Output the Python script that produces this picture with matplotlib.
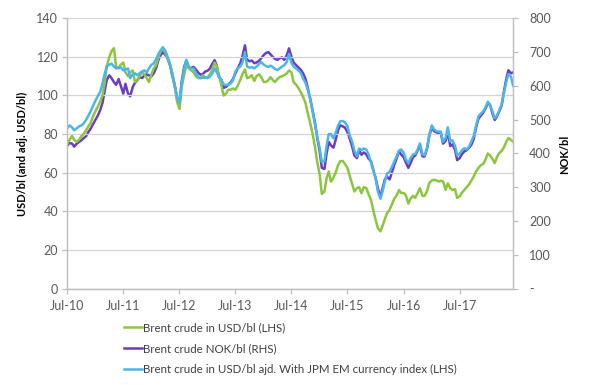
import numpy as np
import pandas as pd
import matplotlib
matplotlib.use('Agg')
import matplotlib.pyplot as plt
import matplotlib.dates as mdates
from matplotlib.ticker import FuncFormatter, MultipleLocator

plt.rcParams['font.family'] = ['Lato', 'DejaVu Sans']

# semi-monthly observations, Jul 2010 - Jun 2018
dates = pd.date_range('2010-07-01', periods=192, freq='SMS')

brent_usd = [
    75, 77, 79, 77, 76, 77, 79, 80, 82, 84, 86, 89,
    92, 94, 97, 100, 106, 115, 120, 123, 124.5, 115, 114, 116,
    117, 112, 110, 112, 113, 107, 108, 110, 112, 111, 109, 107,
    111, 114, 116, 120, 123, 124, 122, 119, 116, 112, 104, 97,
    93, 104, 111, 115.5, 114, 113, 112, 110, 109, 109, 110.5, 109,
    109.5, 111, 113.5, 117, 115, 111, 105, 100, 101, 103, 103, 103.6,
    103, 105, 108, 111, 113.5, 109, 109.5, 110.5, 107.5, 110, 111, 109.7,
    107, 107, 108, 109.5, 108, 107, 108.5, 109.5, 110, 110.5, 111.5, 113,
    112, 107, 105.5, 104, 101.5, 99.3, 96, 91, 85.5, 80.5, 73.5, 66,
    59, 49, 50.3, 57.2, 60.6, 55.4, 57.5, 60, 64, 66, 66, 64.5,
    62.5, 58.5, 54, 50.3, 52, 52.5, 49.4, 52.5, 52, 49, 46, 41,
    35.5, 31.3, 29.6, 32.5, 36, 39, 40.8, 43.5, 46.5, 48, 51, 49.5,
    49.5, 48.5, 44, 46.5, 48, 47, 49.5, 52, 48, 48, 50.5, 54.6,
    56, 56.3, 56, 55.5, 55.8, 55.5, 51.1, 54.5, 52, 51, 51.5, 47,
    47.8, 49.5, 51.1, 52.5, 54, 55.8, 58, 60.5, 62.5, 63.8, 64.5, 66.5,
    70, 69, 67, 65, 68, 70, 71.3, 73, 76, 78, 77, 76,
]

brent_nok = [
    423, 431, 429, 420, 429, 434, 439, 445, 451, 463, 474, 486,
    500, 511, 529, 549, 583, 617, 631, 623, 611, 603, 620, 600,
    577, 606, 577, 569, 597, 609, 617, 626, 623, 631, 634, 631,
    629, 637, 654, 677, 691, 700, 691, 680, 660, 631, 600, 566,
    543, 611, 657, 674, 654, 653, 656, 649, 639, 633, 635, 642,
    645, 651, 666, 676, 660, 626, 617, 594, 597, 603, 611, 620,
    637, 651, 666, 687, 720, 677, 673, 675, 667, 669, 674, 681,
    691, 697, 700, 693, 686, 680, 677, 682, 684, 677, 691, 711,
    686, 669, 661, 655, 647, 637, 620, 594, 560, 529, 491, 449,
    406, 357, 354, 400, 434, 424, 417, 440, 469, 483, 480, 476,
    463, 445, 420, 394, 386, 409, 396, 403, 397, 385, 377, 354,
    326, 297, 271, 297, 323, 331, 323, 343, 366, 383, 406, 397,
    389, 374, 357, 371, 389, 394, 409, 425, 391, 391, 414, 451,
    478, 466, 462, 459, 459, 429, 437, 463, 422, 427, 411, 380,
    386, 397, 406, 409, 417, 425, 443, 474, 503, 511, 520, 531,
    548, 544, 517, 499, 509, 523, 542, 580, 620, 646, 637, 640,
]

brent_adj = [
    83, 84.5, 83.5, 82, 83, 84, 84.5, 85.5, 87.5, 89.5, 92, 94.5,
    97.5, 99.5, 102, 106, 111, 115, 116, 116.5, 115, 114, 114.5, 114.5,
    113, 113.5, 114, 109, 111, 111.5, 110.5, 111.5, 112.5, 113, 112, 114,
    116, 116.5, 119, 121.5, 123.5, 125, 123, 120, 116, 111.4, 105, 99.5,
    96, 106, 114, 118.5, 114.5, 114, 114, 112, 109.5, 109, 109.2, 109.6,
    109, 109.8, 111.5, 114, 112, 110, 108, 105.8, 105.4, 105.5, 106.3, 107.8,
    112.5, 114, 115, 117, 122.5, 115, 114.4, 114.7, 114, 115, 116.2, 117.4,
    116, 115.3, 114.8, 115.5, 114.8, 113.8, 113.2, 114, 115, 115.7, 117.5, 121.5,
    117, 115, 114, 113, 111.5, 108.8, 106.5, 103, 98, 92, 85.5, 79,
    72.7, 65.5, 66, 74, 80, 80, 77.8, 80.5, 84.5, 86.6, 86.8, 86,
    84, 79.5, 76, 71.5, 68.5, 72.5, 71.8, 72.5, 72, 69.5, 65.5, 61.5,
    57, 50.3, 46.5, 50.5, 55.5, 59.5, 60.6, 62.8, 65.8, 68.2, 71.5, 72,
    70.5, 67, 65, 67.5, 69.5, 69.8, 72, 75.2, 69.5, 69, 73, 79.5,
    84.5, 82.5, 81.5, 81.3, 81.3, 76, 78, 83.5, 76.3, 76.8, 74, 69,
    69.8, 71.5, 72.7, 72, 73.5, 76.1, 79, 84, 89.2, 90.5, 91.7, 93.5,
    96.8, 95, 91.5, 88.2, 89.5, 92, 95.5, 101, 107, 111, 109.7, 105,
]

labels = ['Brent crude in USD/bl (LHS)',
          'Brent crude NOK/bl (RHS)',
          'Brent crude in USD/bl ajd. With JPM EM currency index (LHS)']
colors = ['#8cc63e', '#6b3cc4', '#4cb5ec']

tick_grey = '#595959'
axis_grey = '#bfbfbf'

fig = plt.figure(figsize=(5.95, 3.85), dpi=100)
ax = fig.add_axes([0.1131, 0.2506, 0.7496, 0.7019])
ax2 = ax.twinx()

l2, = ax2.plot(dates, brent_nok, color=colors[1], lw=1.8)
l1, = ax.plot(dates, brent_usd, color=colors[0], lw=1.8)
l3, = ax.plot(dates, brent_adj, color=colors[2], lw=1.8)

# left axis above the right one so the blue line covers the purple one
ax.set_zorder(ax2.get_zorder() + 1)
ax.patch.set_visible(False)

ax.set_ylim(0, 140)
ax.yaxis.set_major_locator(MultipleLocator(20))
ax2.set_ylim(0, 800)
ax2.yaxis.set_major_locator(MultipleLocator(100))
ax2.yaxis.set_major_formatter(FuncFormatter(lambda v, p: '-' if v == 0 else '%d' % v))

ax.set_xlim(pd.Timestamp('2010-07-01'), pd.Timestamp('2018-06-16'))
ax.xaxis.set_major_locator(mdates.MonthLocator(bymonth=7, bymonthday=1))
ax.xaxis.set_major_formatter(mdates.DateFormatter('%b-%y'))

ax.grid(axis='y', color='#d4d4d4', lw=0.9)
ax.set_axisbelow(True)

for a in (ax, ax2):
    for s in a.spines.values():
        s.set_color(axis_grey)
        s.set_linewidth(0.9)
    a.spines['top'].set_visible(False)
    a.tick_params(colors=tick_grey, labelsize=9, length=3.5, width=0.9)
    a.tick_params(axis='both', color=axis_grey)
ax.tick_params(axis='x', pad=5)
ax.tick_params(axis='y', pad=3)
ax2.tick_params(axis='y', pad=8)

fig.text(22.7 / 595, 1 - 154 / 385, 'USD/bl (and adj. USD/bl)', rotation=90,
         ha='center', va='center', fontsize=8, fontweight='bold', color='black')
fig.text(565 / 595, 1 - 154 / 385, 'NOK/bl', rotation=90,
         ha='center', va='center', fontsize=8, fontweight='bold', color='black')

fig.legend([l1, l2, l3], labels, loc='upper left', bbox_to_anchor=(124 / 595, 1 - 322 / 385),
           frameon=False, fontsize=8.3, handlelength=1.55, handletextpad=0.1,
           labelspacing=0.85, borderpad=0, borderaxespad=0, labelcolor='#404040')

fig.savefig('out.png', dpi=100)
